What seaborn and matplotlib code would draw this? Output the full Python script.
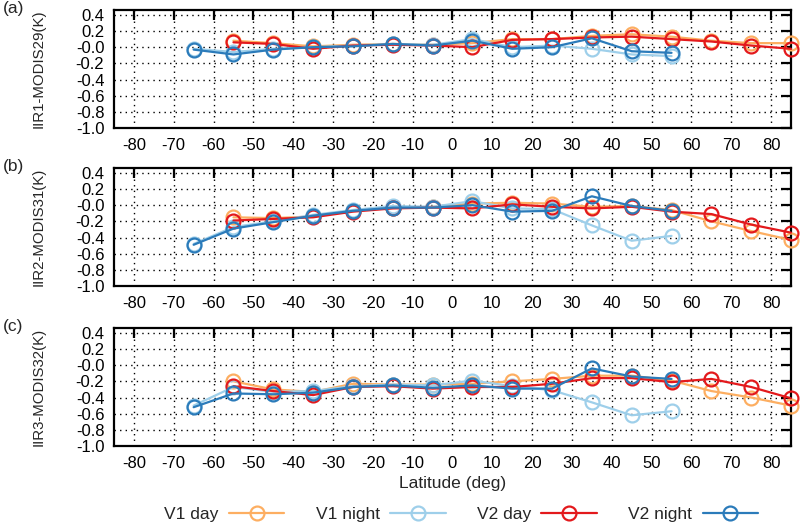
import numpy as np
import pandas as pd
import seaborn as sns
import matplotlib
matplotlib.use("Agg")
import matplotlib.pyplot as plt
from matplotlib.lines import Line2D

# latitude bin centres
lat_day = [-55, -45, -35, -25, -15, -5, 5, 15, 25, 35, 45, 55, 65, 75, 85]
lat_night = [-65, -55, -45, -35, -25, -15, -5, 5, 15, 25, 35, 45, 55]

# (a) IIR1 - MODIS29
a_v1_day = [0.08, 0.05, 0.01, 0.03, 0.04, 0.03, 0.05, 0.10, 0.10, 0.14, 0.16, 0.13, 0.08, 0.05, 0.05]
a_v1_night = [-0.02, -0.06, -0.02, 0.00, 0.02, 0.04, 0.03, 0.10, 0.00, 0.02, -0.02, -0.09, -0.11]
a_v2_day = [0.06, 0.04, -0.02, 0.02, 0.03, 0.02, 0.00, 0.09, 0.10, 0.12, 0.13, 0.10, 0.07, 0.02, -0.02]
a_v2_night = [-0.03, -0.09, -0.03, 0.00, 0.01, 0.04, 0.02, 0.08, -0.02, 0.00, 0.11, -0.05, -0.07]

# (b) IIR2 - MODIS31
b_v1_day = [-0.15, -0.16, -0.14, -0.07, -0.03, -0.02, 0.02, 0.03, 0.02, -0.02, -0.01, -0.06, -0.20, -0.32, -0.43]
b_v1_night = [-0.48, -0.27, -0.20, -0.12, -0.06, -0.01, -0.02, 0.05, -0.04, -0.05, -0.25, -0.44, -0.38]
b_v2_day = [-0.19, -0.17, -0.15, -0.08, -0.04, -0.03, -0.04, 0.01, -0.02, -0.04, -0.02, -0.08, -0.11, -0.24, -0.34]
b_v2_night = [-0.49, -0.29, -0.21, -0.13, -0.07, -0.03, -0.03, 0.00, -0.08, -0.07, 0.11, -0.01, -0.07]

# (c) IIR3 - MODIS32
c_v1_day = [-0.20, -0.30, -0.33, -0.23, -0.24, -0.24, -0.23, -0.20, -0.17, -0.13, -0.13, -0.19, -0.32, -0.40, -0.50]
c_v1_night = [-0.50, -0.27, -0.33, -0.32, -0.26, -0.24, -0.25, -0.19, -0.26, -0.31, -0.46, -0.62, -0.57]
c_v2_day = [-0.26, -0.32, -0.37, -0.27, -0.26, -0.29, -0.27, -0.27, -0.23, -0.16, -0.16, -0.21, -0.17, -0.27, -0.41]
c_v2_night = [-0.52, -0.35, -0.36, -0.34, -0.27, -0.25, -0.28, -0.25, -0.29, -0.29, -0.04, -0.14, -0.17]

series_names = ["V1 day", "V1 night", "V2 day", "V2 night"]
colors = {"V1 day": "#fdae61", "V1 night": "#9ecfea", "V2 day": "#e3191c", "V2 night": "#2b7bba"}

panels = [
    ("(a)", "IIR1-MODIS29(K)", [a_v1_day, a_v1_night, a_v2_day, a_v2_night]),
    ("(b)", "IIR2-MODIS31(K)", [b_v1_day, b_v1_night, b_v2_day, b_v2_night]),
    ("(c)", "IIR3-MODIS32(K)", [c_v1_day, c_v1_night, c_v2_day, c_v2_night]),
]

sns.set_style("white")
plt.rcParams["font.family"] = ["Liberation Sans", "DejaVu Sans"]
plt.rcParams["axes.unicode_minus"] = False

fig = plt.figure(figsize=(8, 5.27), dpi=100)
H = 527.0
tops = [10, 168, 328]
ax_h = 118

for (tag, ylab, vals), top in zip(panels, tops):
    ax = fig.add_axes([114 / 800, 1 - (top + ax_h) / H, 677 / 800, ax_h / H])
    for name, v in zip(series_names, vals):
        lat = lat_day if "day" in name else lat_night
        df = pd.DataFrame({"lat": lat, "val": v})
        sns.lineplot(data=df, x="lat", y="val", ax=ax, color=colors[name],
                     marker="o", markersize=10, markerfacecolor="none",
                     markeredgecolor=colors[name], markeredgewidth=1.6,
                     linewidth=1.6, errorbar=None, clip_on=False, zorder=3)
    ax.set_xlim(-85, 85)
    ax.set_ylim(-1.0, 0.46)
    ax.set_xticks(np.arange(-80, 81, 10))
    ax.set_yticks(np.arange(-1.0, 0.41, 0.2))
    ax.set_yticklabels([f"{t:.1f}" for t in np.arange(-1.0, 0.41, 0.2)])
    ax.grid(True, linestyle=(0, (1, 3)), color="black", linewidth=1)
    ax.tick_params(direction="in", length=7, width=1.6, top=True, right=True,
                   labelsize=12, pad=7, colors="black")
    for s in ax.spines.values():
        s.set_linewidth(1.6)
        s.set_color("black")
    ax.set_xlabel("")
    ax.set_ylabel(ylab, fontsize=10.8, va="center")
    ax.yaxis.set_label_coords(-0.111, 0.5)
    fig.text(0.003, 1 - (top - 2) / H, tag, fontsize=12.5, va="center", ha="left")

ax.set_xlabel("Latitude (deg)", fontsize=12.5, labelpad=4)

handles = [Line2D([], [], color=colors[n], marker="o", markersize=10, markerfacecolor="none",
                  markeredgewidth=1.6, linewidth=1.6) for n in series_names]
fig.legend(handles, series_names, loc="center", bbox_to_anchor=(461 / 800, 1 - 514 / H),
           ncol=4, frameon=False, markerfirst=False, handlelength=3.2,
           columnspacing=1.8, handletextpad=0.6, fontsize=12.5)

fig.savefig("out.png", dpi=100)
